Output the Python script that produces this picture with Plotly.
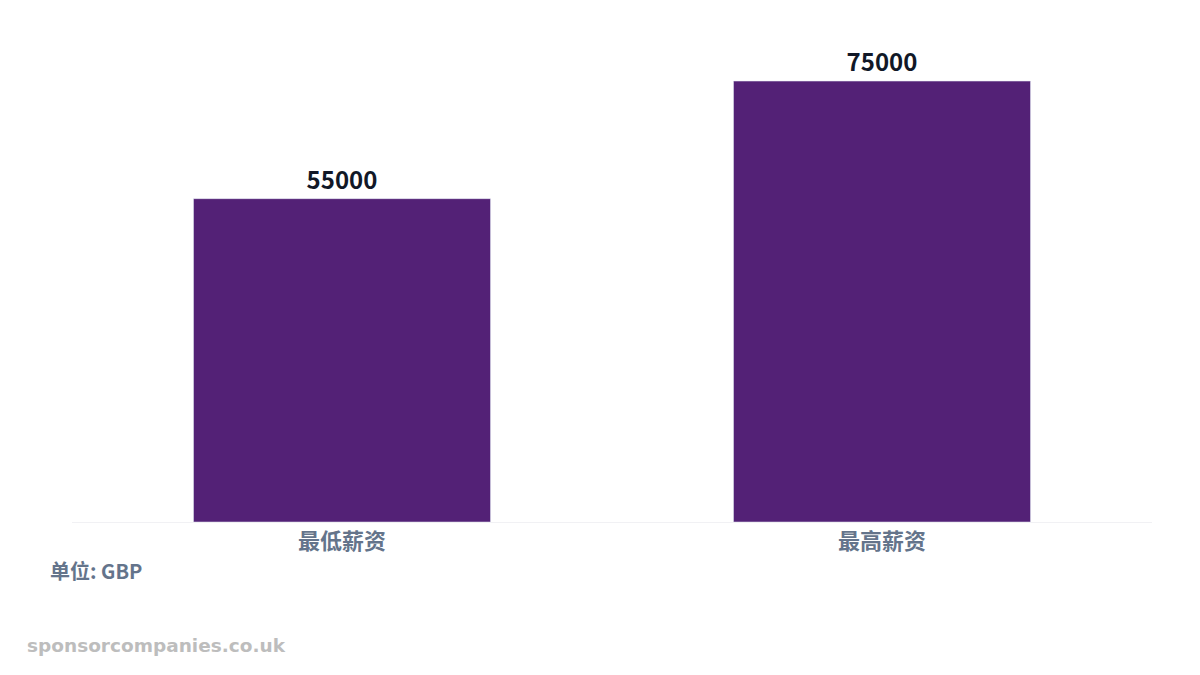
import plotly.graph_objects as go

categories = ["最低薪资", "最高薪资"]
values = [55000, 75000]
unit_label = "单位: GBP"
watermark = "sponsorcompanies.co.uk"

fig = go.Figure(go.Bar(
    x=categories, y=values, marker_color="#532176",
    text=[str(v) for v in values], textposition="outside", cliponaxis=False,
    textfont=dict(family="Noto Sans CJK SC", size=24, color="#111827", weight="bold"),
))
fig.update_layout(
    width=1200, height=675, paper_bgcolor="white", plot_bgcolor="white",
    margin=dict(l=64, r=56, t=29, b=161), bargap=0.45, showlegend=False,
    font=dict(family="Noto Sans CJK SC"),
    xaxis=dict(showline=True, linecolor="#f1f1f4", linewidth=1,
               tickfont=dict(size=22, color="#64748b", weight="bold"), ticks=""),
    yaxis=dict(range=[0, 82500], visible=False),
    annotations=[
        dict(text=unit_label, xref="paper", yref="paper", x=-0.022, y=-0.101,
             xanchor="left", yanchor="middle", showarrow=False,
             font=dict(size=20, color="#64748b", weight="bold")),
        dict(text=watermark, xref="paper", yref="paper", x=-0.0435, y=-0.254,
             xanchor="left", yanchor="middle", showarrow=False,
             font=dict(family="DejaVu Sans", size=18.5, color="#bdbdbd", weight="bold")),
    ],
)
fig.write_html("out.html")
